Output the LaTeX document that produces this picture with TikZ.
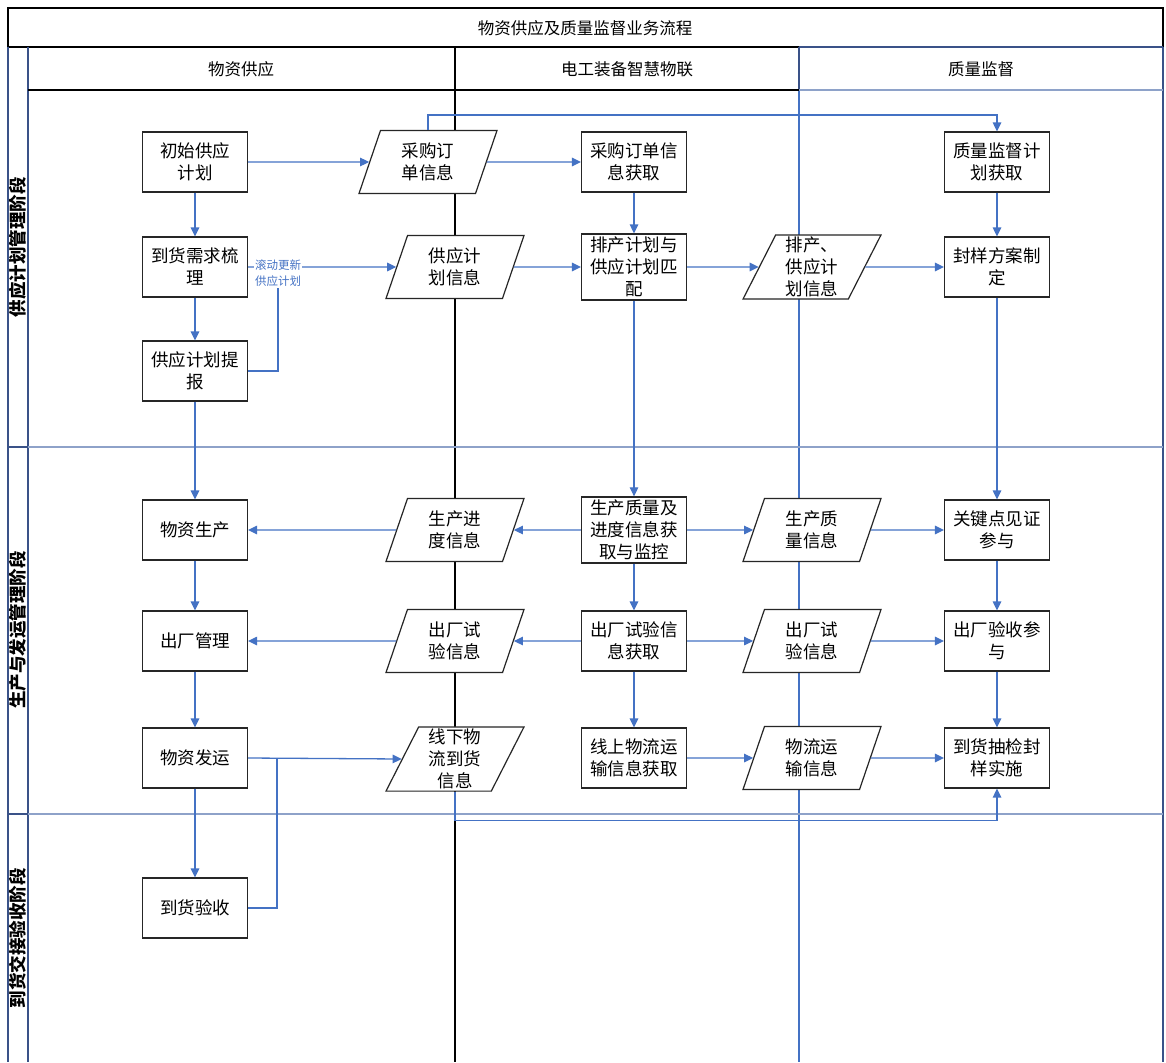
\documentclass[tikz,border=0pt]{standalone}
\usepackage{fontspec}
\setmainfont{Noto Sans CJK SC}
\usepackage{tikz}
\usetikzlibrary{shapes.geometric}
\usetikzlibrary{arrows.meta}
\usetikzlibrary{positioning,calc}
\definecolor{flowblue}{HTML}{4472C4}
\definecolor{lanenavy}{HTML}{3A5288}
\definecolor{lanelight}{HTML}{8EA2C9}
\newcommand{\boxfont}{\fontsize{17.5}{22}\selectfont}
\newcommand{\headfont}{\fontsize{16.5}{20}\selectfont}

\begin{document}
\begin{tikzpicture}[x=1pt,y=-1pt,
  proc/.style={draw=black!85,line width=1.2pt,fill=white,minimum width=105pt,minimum height=60pt,align=center,font=\boxfont,inner sep=3pt},
  data/.style={draw=black!85,line width=1.2pt,fill=white,trapezium,trapezium left angle=63,trapezium right angle=117,trapezium stretches body,minimum width=138pt,minimum height=63pt,align=center,font=\boxfont,inner sep=2pt},
  flow/.style={draw=flowblue,line width=1.3pt,-{Triangle[length=9pt,width=8.5pt]}},
  link/.style={draw=flowblue,line width=1.3pt},
  note/.style={fill=white,inner sep=1pt,align=center,text=flowblue,font=\fontsize{11.5}{16}\selectfont},
  phase/.style={rotate=90,font=\boxfont\bfseries}]
  \useasboundingbox (0,0) rectangle (1166,1062);
  \fill[white] (0,0) rectangle (1166,1062);
  \draw[black,line width=1.2pt] (8,47) -- (8,8) -- (1163,8) -- (1163,47);
  \draw[black,line width=1.6pt] (8,47) -- (799,47);
  \draw[lanenavy,line width=1.4pt] (799,47) -- (1163,47);
  \draw[lanenavy,line width=1.4pt] (8,47) -- (8,1062) (28,47) -- (28,1062) (1163,47) -- (1163,1062);
  \draw[black,line width=1.2pt] (455,47) -- (455,1062);
  \draw[lanenavy,line width=1.2pt] (799,47) -- (799,90);
  \draw[flowblue,line width=1.1pt] (799,90) -- (799,1062);
  \draw[black,line width=1.2pt] (28,90) -- (799,90);
  \draw[lanelight,line width=1.4pt] (799,90) -- (1163,90);
  \draw[lanenavy,line width=1.6pt] (8,447) -- (28,447) (8,814) -- (28,814);
  \draw[lanelight,line width=1.8pt] (28,447) -- (1163,447) (28,814) -- (1163,814);
  \node[font=\headfont] (title) at (585,28) {物资供应及质量监督业务流程};
  \node[font=\headfont] (lanea) at (241,69) {物资供应};
  \node[font=\headfont] (laneb) at (627,69) {电工装备智慧物联};
  \node[font=\headfont] (lanec) at (981,69) {质量监督};
  \node[phase] (phasea) at (18,247) {供应计划管理阶段};
  \node[phase] (phaseb) at (18,630) {生产与发运管理阶段};
  \node[phase] (phasec) at (18,938) {到货交接验收阶段};

  \node[proc] (csjh) at (195,162) {初始供应\\计划};
  \node[data] (cgdd) at (428,162) {采购订\\单信息};
  \node[proc] (cghq) at (634,162) {采购订单信\\息获取};
  \node[proc] (zljh) at (997,162) {质量监督计\\划获取};
  \node[proc] (dhxq) at (195,267) {到货需求梳\\理};
  \node[data] (gyxx) at (455,267) {供应计\\划信息};
  \node[proc] (pcpp) at (634,267) {排产计划与\\供应计划匹\\配};
  \node[data] (pcxx) at (812,267) {排产、\\供应计\\划信息};
  \node[proc] (fyfa) at (997,267) {封样方案制\\定};
  \node[proc] (gytb) at (195,371) {供应计划提\\报};
  \node[proc] (wzsc) at (195,530) {物资生产};
  \node[data] (jdxx) at (455,530) {生产进\\度信息};
  \node[proc] (scjk) at (634,530) {生产质量及\\进度信息获\\取与监控};
  \node[data] (zlxx) at (812,530) {生产质\\量信息};
  \node[proc] (gjd) at (997,530) {关键点见证\\参与};
  \node[proc] (ccgl) at (195,641) {出厂管理};
  \node[data] (syxa) at (455,641) {出厂试\\验信息};
  \node[proc] (syhq) at (634,641) {出厂试验信\\息获取};
  \node[data] (syxb) at (812,641) {出厂试\\验信息};
  \node[proc] (ysy) at (997,641) {出厂验收参\\与};
  \node[proc] (wzfy) at (195,758) {物资发运};
  \node[data] (xxwl) at (455,759) {线下物\\流到货\\信息};
  \node[proc] (xswl) at (634,758) {线上物流运\\输信息获取};
  \node[data] (wlxx) at (812,758) {物流运\\输信息};
  \node[proc] (cjfy) at (997,758) {到货抽检封\\样实施};
  \node[proc] (dhys) at (195,908) {到货验收};

  \draw[flow] (csjh.east) -- (cgdd.west);
  \draw[flow] (cgdd.east) -- (cghq.west);
  \draw[flow] (cgdd.north) -- ++(0,-15) -| (zljh.north);
  \draw[flow] (csjh.south) -- (dhxq.north);
  \draw[flow] (dhxq.east) -- (gyxx.west);
  \node[note] (gxjh) at (278,273) {滚动更新\\供应计划};
  \draw[link] (gytb.east) -| (gxjh.south);
  \draw[flow] (dhxq.south) -- (gytb.north);
  \draw[flow] (gyxx.east) -- (pcpp.west);
  \draw[flow] (cghq.south) -- (pcpp.north);
  \draw[flow] (pcpp.east) -- (pcxx.west);
  \draw[flow] (pcxx.east) -- (fyfa.west);
  \draw[flow] (zljh.south) -- (fyfa.north);
  \draw[flow] (gytb.south) -- (wzsc.north);
  \draw[flow] (pcpp.south) -- (scjk.north);
  \draw[flow] (fyfa.south) -- (gjd.north);
  \draw[flow] (scjk.west) -- (jdxx.east);
  \draw[flow] (jdxx.west) -- (wzsc.east);
  \draw[flow] (scjk.east) -- (zlxx.west);
  \draw[flow] (zlxx.east) -- (gjd.west);
  \draw[flow] (wzsc.south) -- (ccgl.north);
  \draw[flow] (scjk.south) -- (syhq.north);
  \draw[flow] (gjd.south) -- (ysy.north);
  \draw[flow] (syhq.west) -- (syxa.east);
  \draw[flow] (syxa.west) -- (ccgl.east);
  \draw[flow] (syhq.east) -- (syxb.west);
  \draw[flow] (syxb.east) -- (ysy.west);
  \draw[flow] (ccgl.south) -- (wzfy.north);
  \draw[flow] (syhq.south) -- (xswl.north);
  \draw[flow] (ysy.south) -- (cjfy.north);
  \draw[flow] (wzfy.east) -- (xxwl.west);
  \draw[flow] (wzfy.south) -- (dhys.north);
  \coordinate (hl) at (277,758);
  \draw[link] (dhys.east) -| (hl);
  \draw[flow] (xswl.east) -- (wlxx.west);
  \draw[flow] (wlxx.east) -- (cjfy.west);
  \draw[flow] (xxwl.south) -- ++(0,29) -| (cjfy.south);
\end{tikzpicture}
\end{document}
